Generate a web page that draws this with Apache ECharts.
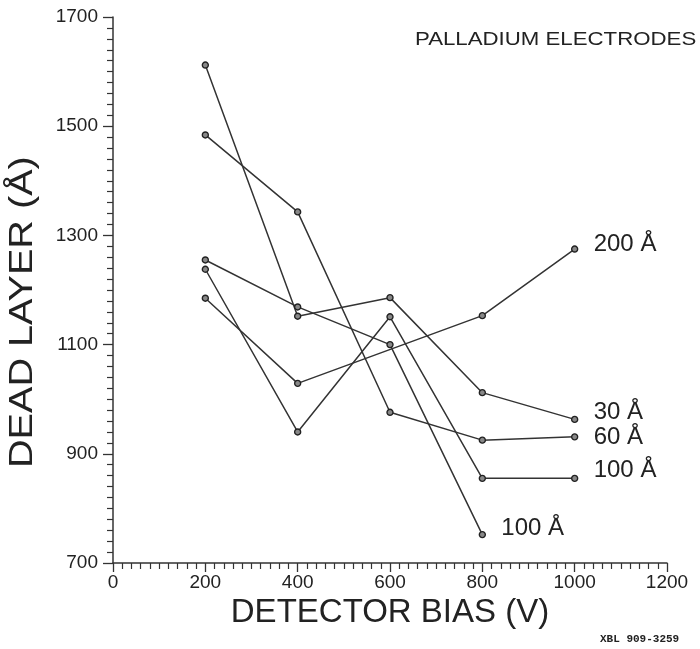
<!DOCTYPE html>
<html>
<head>
<meta charset="utf-8">
<script src="https://cdn.jsdelivr.net/npm/echarts@6/dist/echarts.min.js"></script>
<style>html,body{margin:0;padding:0;background:#fff}#c{width:700px;height:649px}</style>
</head>
<body>
<div id="c"></div>
<script>
const biasX = [200, 400, 600, 800, 1000];
const seriesNames = ['30 Å', '60 Å', '100 Å', '100 Å ', '200 Å'];
const dead30 = [1612, 1152, 1186, 1012, 963];
const dead60 = [1484, 1343, 976, 925, 931];
const dead100a = [1238, 940, 1151, 855, 855];
const dead100b = [1255, 1169, 1100, 752, null];
const dead200 = [1185, 1029, null, 1153, 1275];
const xTicks = [0, 200, 400, 600, 800, 1000, 1200];
const yTicks = [700, 900, 1100, 1300, 1500, 1700];

const allSeries = [dead30, dead60, dead100a, dead100b, dead200];
const labelOffsets = [[0, -7], [0, 1], [0, -8], [0, -6], [0, -5]];

const FONT = 'Liberation Sans';
const TXT = '#222';
const LINE = '#333';

const chart = echarts.init(document.getElementById('c'), null, {renderer: 'canvas'});

const series = allSeries.map((vals, i) => ({
  name: seriesNames[i],
  type: 'line',
  data: biasX.map((x, j) => [x, vals[j]]).filter(p => p[1] !== null),
  symbol: 'circle',
  symbolSize: 6,
  itemStyle: {color: '#888', borderColor: '#222', borderWidth: 1.4},
  lineStyle: {color: LINE, width: 1.5},
  animation: false,
  endLabel: {
    show: true,
    formatter: seriesNames[i].trim(),
    fontFamily: FONT,
    fontSize: 24,
    color: TXT,
    distance: 19,
    offset: labelOffsets[i]
  }
}));

chart.setOption({
  animation: false,
  grid: {left: 113, right: 33, top: 17, bottom: 86, containLabel: false},
  xAxis: {
    type: 'value', min: xTicks[0], max: xTicks[xTicks.length - 1], interval: 200,
    axisLine: {show: true, lineStyle: {color: LINE, width: 1.5}},
    axisTick: {show: true, length: 9, lineStyle: {color: LINE, width: 1.3}},
    minorTick: {show: true, splitNumber: 10, length: 6, lineStyle: {color: LINE, width: 1.2}},
    splitLine: {show: false},
    axisLabel: {fontFamily: FONT, fontSize: 19, color: TXT, margin: 10, formatter: v => String(v)},
    name: 'DETECTOR BIAS (V)',
    nameLocation: 'middle',
    nameGap: 33,
    nameTextStyle: {fontFamily: FONT, fontSize: 33, color: TXT}
  },
  yAxis: {
    type: 'value', min: yTicks[0], max: yTicks[yTicks.length - 1], interval: 200,
    axisLine: {show: true, lineStyle: {color: LINE, width: 1.5}},
    axisTick: {show: true, length: 10, lineStyle: {color: LINE, width: 1.3}},
    minorTick: {show: true, splitNumber: 10, length: 6, lineStyle: {color: LINE, width: 1.2}},
    splitLine: {show: false},
    axisLabel: {fontFamily: FONT, fontSize: 19, color: TXT, margin: 15, formatter: v => String(v)}
  },
  graphic: [
    {type: 'text', x: 415, y: 30, scaleX: 1.17, style: {text: 'PALLADIUM ELECTRODES', font: '19px "' + FONT + '"', fill: TXT}},
    {type: 'text', x: 6, y: 468, rotation: Math.PI / 2, scaleX: 1.2, style: {text: 'DEAD LAYER (Å)', font: '33px "' + FONT + '"', fill: TXT}},
    {type: 'text', x: 600, y: 634, style: {text: 'XBL 909-3259', font: 'bold 11px "Liberation Mono"', fill: TXT}}
  ],
  series: series
});
</script>
</body>
</html>
